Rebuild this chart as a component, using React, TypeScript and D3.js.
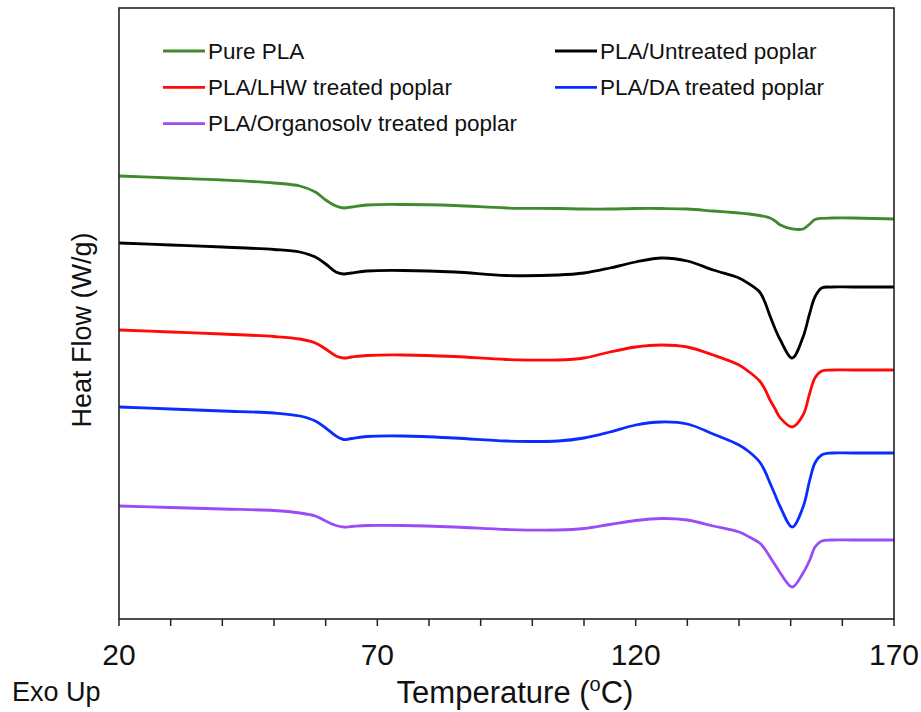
import React from "react";
import * as d3 from "d3";

// Temperatures (°C) at which the DSC traces were read
const temperatures = [20, 30, 40, 50, 55, 58, 60, 62, 63.5, 65, 68, 75, 85, 95, 105, 110, 115, 120, 125, 130, 135, 140, 142, 144, 145, 146, 147, 148, 150.3, 152.4, 153.7, 154.7, 156, 158, 162, 170];

// Heat flow (W/g, offset traces, arbitrary baseline)
const purePLA = [4.43, 4.41, 4.39, 4.36, 4.33, 4.27, 4.19, 4.13, 4.11, 4.12, 4.14, 4.145, 4.135, 4.11, 4.105, 4.10, 4.10, 4.105, 4.105, 4.10, 4.08, 4.06, 4.05, 4.035, 4.025, 4.01, 3.98, 3.94, 3.902, 3.90, 3.95, 3.995, 4.007, 4.01, 4.01, 4.00];
const untreated = [3.76, 3.74, 3.72, 3.695, 3.67, 3.62, 3.55, 3.47, 3.45, 3.46, 3.48, 3.485, 3.47, 3.435, 3.44, 3.46, 3.51, 3.57, 3.61, 3.58, 3.49, 3.41, 3.35, 3.27, 3.17, 3.03, 2.90, 2.79, 2.61, 2.82, 3.06, 3.22, 3.31, 3.32, 3.32, 3.32];
const lhw = [2.89, 2.87, 2.85, 2.825, 2.80, 2.76, 2.70, 2.63, 2.61, 2.62, 2.635, 2.64, 2.625, 2.595, 2.59, 2.61, 2.67, 2.72, 2.74, 2.72, 2.64, 2.54, 2.47, 2.38, 2.30, 2.19, 2.10, 2.01, 1.92, 2.04, 2.26, 2.41, 2.48, 2.49, 2.49, 2.49];
const da = [2.12, 2.10, 2.08, 2.06, 2.03, 1.98, 1.91, 1.83, 1.795, 1.805, 1.825, 1.83, 1.81, 1.78, 1.78, 1.81, 1.87, 1.94, 1.97, 1.95, 1.85, 1.74, 1.67, 1.57, 1.48, 1.36, 1.24, 1.12, 0.92, 1.12, 1.39, 1.56, 1.64, 1.66, 1.66, 1.66];
const organosolv = [1.13, 1.115, 1.10, 1.085, 1.06, 1.03, 0.98, 0.935, 0.92, 0.925, 0.935, 0.935, 0.92, 0.895, 0.89, 0.905, 0.945, 0.985, 1.005, 0.99, 0.93, 0.87, 0.82, 0.76, 0.70, 0.62, 0.54, 0.46, 0.32, 0.46, 0.59, 0.72, 0.78, 0.79, 0.79, 0.79];

const seriesNames = ["Pure PLA", "PLA/Untreated poplar", "PLA/LHW treated poplar", "PLA/DA treated poplar", "PLA/Organosolv treated poplar"];
const seriesValues = [purePLA, untreated, lhw, da, organosolv];
const seriesColors = ["#3f8a2c", "#000000", "#ff0a0a", "#0a2cff", "#9b4cf7"];

const xMajorTicks = [20, 70, 120, 170];
const xMinorTicks = d3.range(20, 171, 10);

const W = 921;
const H = 712;
const margin = { left: 119, right: 27, top: 8, bottom: 93 };
const FONT = "'Liberation Sans', Arial, Helvetica, sans-serif";

export default function App() {
  const x = d3.scaleLinear().domain([20, 170]).range([margin.left, W - margin.right]);
  const y = d3.scaleLinear().domain([0, 6.11]).range([H - margin.bottom, margin.top]);
  const line = d3
    .line<number>()
    .x((_, i) => x(temperatures[i]))
    .y((d) => y(d))
    .curve(d3.curveCatmullRom.alpha(0.5));

  const x0 = x(20);
  const x1 = x(170);
  const yb = y(0);
  const yt = y(6.11);

  // legend layout: two columns
  const legendItems = seriesNames.map((name, i) => ({
    name,
    color: seriesColors[i],
    col: i === 1 || i === 3 ? 1 : 0,
    row: i === 0 || i === 1 ? 0 : i === 2 || i === 3 ? 1 : 2,
  }));
  const colX = [163, 555];

  return (
    <svg width={W} height={H} style={{ position: "absolute", left: 0, top: 0, background: "#fff" }} fontFamily={FONT}>
      <rect x={0} y={0} width={W} height={H} fill="#fff" />
      {seriesValues.map((vals, i) => (
        <path key={i} d={line(vals) || ""} fill="none" stroke={seriesColors[i]} strokeWidth={2.8} strokeLinejoin="round" />
      ))}
      <rect x={x0} y={yt} width={x1 - x0} height={yb - yt} fill="none" stroke="#222" strokeWidth={1.6} />
      {xMinorTicks.map((t) => (
        <line key={t} x1={x(t)} x2={x(t)} y1={yb} y2={yb + 7} stroke="#222" strokeWidth={1.5} />
      ))}
      {xMajorTicks.map((t) => (
        <text key={t} x={x(t)} y={665} textAnchor="middle" fontSize={30} fill="#111">
          {t}
        </text>
      ))}
      <text x={515} y={703} textAnchor="middle" fontSize={31} fill="#111">
        Temperature (<tspan fontSize={20} dy={-12}>o</tspan>
        <tspan dy={12}>C)</tspan>
      </text>
      <text x={12} y={701} fontSize={27} fill="#111">Exo Up</text>
      <text transform={`translate(91,330) rotate(-90)`} textAnchor="middle" fontSize={27} fill="#111">
        Heat Flow (W/g)
      </text>
      {legendItems.map((it, i) => {
        const ly = 51 + it.row * 36.3;
        const lx = colX[it.col];
        return (
          <g key={i}>
            <line x1={lx} x2={lx + 42} y1={ly} y2={ly} stroke={it.color} strokeWidth={2.8} />
            <text x={lx + 45} y={ly + 7.5} fontSize={22.5} fill="#111">
              {it.name}
            </text>
          </g>
        );
      })}
    </svg>
  );
}
